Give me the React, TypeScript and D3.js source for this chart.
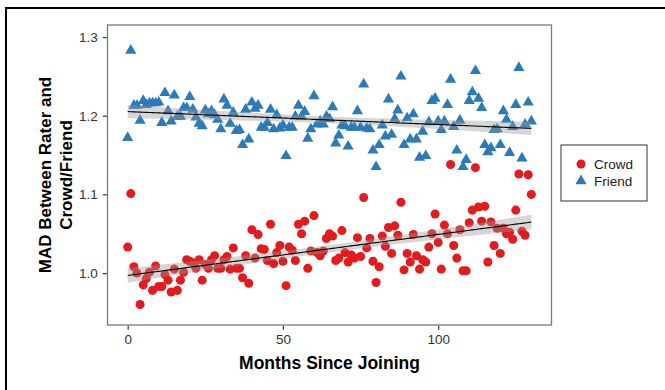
import { useEffect, useRef } from 'react';
import * as d3 from 'd3';

// one value per month since joining (month = index)
const crowd = [
    1.033, 1.101, 1.008, 1.000, 0.960, 0.985, 0.993, 1.001, 0.978, 1.009,
    0.983, 0.983, 0.998, 0.991, 0.976, 1.005, 0.978, 0.991, 1.001, 1.017,
    1.015, 1.013, 1.006, 1.017, 0.991, 1.011, 1.006, 1.017, 1.022, 1.006,
    1.006, 1.017, 1.021, 1.005, 1.032, 1.006, 1.006, 0.994, 1.022, 0.987,
    1.055, 1.019, 1.049, 1.031, 1.030, 1.016, 1.062, 1.012, 1.026, 1.035,
    1.015, 0.984, 1.033, 1.029, 1.016, 1.062, 1.050, 1.066, 1.006, 1.028,
    1.073, 1.026, 1.022, 1.028, 1.044, 1.050, 1.047, 1.016, 1.019, 1.054,
    1.026, 1.014, 1.023, 1.019, 1.045, 1.021, 1.096, 1.032, 1.044, 1.015,
    0.988, 1.008, 1.047, 1.034, 1.058, 1.025, 1.060, 1.048, 1.090, 1.004,
    1.025, 1.014, 1.049, 1.022, 1.005, 1.017, 1.014, 1.033, 1.050, 1.075,
    1.039, 1.005, 1.061, 1.050, 1.138, 1.035, 1.019, 1.055, 1.003, 1.003,
    1.064, 1.080, 1.134, 1.084, 1.066, 1.085, 1.014, 1.065, 1.035, 1.057,
    1.025, 1.057, 1.050, 1.052, 1.043, 1.080, 1.126, 1.053, 1.048, 1.125,
    1.100,
];

const friend = [
    1.172, 1.283, 1.213, 1.213, 1.194, 1.219, 1.214, 1.216, 1.216, 1.216,
    1.217, 1.191, 1.229, 1.206, 1.193, 1.226, 1.199, 1.199, 1.210, 1.210,
    1.224, 1.208, 1.198, 1.190, 1.187, 1.207, 1.202, 1.206, 1.201, 1.195,
    1.183, 1.221, 1.213, 1.190, 1.204, 1.181, 1.182, 1.163, 1.208, 1.170,
    1.217, 1.209, 1.213, 1.185, 1.185, 1.191, 1.208, 1.183, 1.201, 1.184,
    1.188, 1.149, 1.185, 1.185, 1.199, 1.213, 1.199, 1.205, 1.171, 1.183,
    1.225, 1.189, 1.193, 1.189, 1.199, 1.196, 1.211, 1.165, 1.175, 1.188,
    1.187, 1.161, 1.185, 1.185, 1.206, 1.185, 1.240, 1.184, 1.183, 1.156,
    1.135, 1.163, 1.188, 1.174, 1.221, 1.176, 1.196, 1.207, 1.250, 1.163,
    1.197, 1.170, 1.202, 1.170, 1.147, 1.180, 1.149, 1.192, 1.219, 1.222,
    1.193, 1.182, 1.193, 1.214, 1.246, 1.186, 1.156, 1.194, 1.135, 1.144,
    1.219, 1.230, 1.257, 1.222, 1.210, 1.163, 1.154, 1.159, 1.182, 1.183,
    1.163, 1.206, 1.195, 1.153, 1.186, 1.214, 1.261, 1.146, 1.189, 1.217,
    1.193,
];

const seriesNames = ['Crowd', 'Friend'];
const seriesColors = ['#e41a1c', '#2b7bba'];
const xTicks = [0, 50, 100];
const yTicks = [1.0, 1.1, 1.2, 1.3];

// ordinary least squares with a 95% confidence band, like geom_smooth(method = "lm")
function fitLine(ys: number[]) {
    const xs = ys.map((_, i) => i);
    const n = ys.length;
    const mx = d3.mean(xs)!;
    const my = d3.mean(ys)!;
    const sxx = d3.sum(xs, x => (x - mx) ** 2);
    const b = d3.sum(xs, (x, i) => (x - mx) * (ys[i] - my)) / sxx;
    const a = my - b * mx;
    const s = Math.sqrt(d3.sum(xs, (x, i) => (ys[i] - a - b * x) ** 2) / (n - 2));
    const t = 1.978;
    return xs.map(x => {
        const fit = a + b * x;
        const se = s * Math.sqrt(1 / n + (x - mx) ** 2 / sxx);
        return { x, fit, lo: fit - t * se, hi: fit + t * se };
    });
}

export default function App() {
    const ref = useRef<SVGSVGElement>(null);

    useEffect(() => {
        if (!ref.current) return;
        const svg = d3.select(ref.current);
        svg.selectAll('*').remove();

        const panel = { left: 107.5, right: 551.5, top: 25, bottom: 325 };
        const font = "'Liberation Sans', Arial, Helvetica, sans-serif";

        const xScale = d3.scaleLinear().domain([-6.5, 136.5]).range([panel.left, panel.right]);
        const yScale = d3.scaleLinear().domain([0.934, 1.3153]).range([panel.bottom, panel.top]);

        // outer frame (only the top and left edges show)
        svg.append('rect')
            .attr('x', 6).attr('y', 8)
            .attr('width', 800).attr('height', 600)
            .attr('fill', 'none').attr('stroke', '#000').attr('stroke-width', 2);

        const symbolFor = (k: number) => k === 0
            ? d3.symbol().type(d3.symbolCircle).size(64)
            : d3.symbol().type(d3.symbolTriangle).size(54);

        // points
        [crowd, friend].forEach((values, k) => {
            svg.append('g')
                .selectAll('path')
                .data(values)
                .join('path')
                .attr('transform', (d, i) => `translate(${xScale(i)},${yScale(d)})`)
                .attr('d', symbolFor(k)()!)
                .attr('fill', seriesColors[k]);
        });

        // regression bands and lines
        [crowd, friend].forEach(values => {
            const fit = fitLine(values);
            const area = d3.area<{ x: number; lo: number; hi: number }>()
                .x(d => xScale(d.x))
                .y0(d => yScale(d.lo))
                .y1(d => yScale(d.hi));
            svg.append('path')
                .datum(fit)
                .attr('d', area)
                .attr('fill', '#999999')
                .attr('fill-opacity', 0.4);
            const line = d3.line<{ x: number; fit: number }>()
                .x(d => xScale(d.x))
                .y(d => yScale(d.fit));
            svg.append('path')
                .datum(fit)
                .attr('d', line)
                .attr('fill', 'none')
                .attr('stroke', '#000')
                .attr('stroke-width', 1.1);
        });

        // panel border
        svg.append('rect')
            .attr('x', panel.left).attr('y', panel.top)
            .attr('width', panel.right - panel.left)
            .attr('height', panel.bottom - panel.top)
            .attr('fill', 'none').attr('stroke', '#7a7a7a').attr('stroke-width', 1.3);

        // axes
        const xAxis = svg.append('g')
            .attr('transform', `translate(0,${panel.bottom + 0.7})`)
            .call(d3.axisBottom(xScale).tickValues(xTicks).tickSize(4).tickPadding(5));
        const yAxis = svg.append('g')
            .attr('transform', `translate(${panel.left - 0.7},0)`)
            .call(d3.axisLeft(yScale).tickValues(yTicks).tickFormat(d3.format('.1f')).tickSize(4).tickPadding(5));
        [xAxis, yAxis].forEach(ax => {
            ax.select('.domain').remove();
            ax.selectAll('line').attr('stroke', '#333').attr('stroke-width', 1.2);
            ax.selectAll('text')
                .attr('fill', '#333')
                .style('font-family', font)
                .style('font-size', '13.5px');
        });

        // axis titles
        svg.append('text')
            .attr('x', xScale(65)).attr('y', 369)
            .attr('text-anchor', 'middle')
            .style('font-family', font).style('font-size', '17.5px').style('font-weight', 'bold')
            .text('Months Since Joining');

        const yMid = (panel.top + panel.bottom) / 2;
        ['MAD Between Rater and', 'Crowd/Friend'].forEach((s, i) => {
            svg.append('text')
                .attr('transform', `translate(${51 + i * 21},${yMid}) rotate(-90)`)
                .attr('text-anchor', 'middle')
                .style('font-family', font).style('font-size', '17px').style('font-weight', 'bold')
                .text(s);
        });

        // legend
        const lg = svg.append('g').attr('transform', 'translate(561,145)');
        lg.append('rect')
            .attr('width', 86).attr('height', 56)
            .attr('fill', '#fff').attr('stroke', '#333').attr('stroke-width', 1);
        seriesNames.forEach((name, k) => {
            const y = 19 + k * 17;
            lg.append('path')
                .attr('transform', `translate(20,${y})`)
                .attr('d', symbolFor(k)()!)
                .attr('fill', seriesColors[k]);
            lg.append('text')
                .attr('x', 33).attr('y', y + 5)
                .attr('fill', '#222')
                .style('font-family', font).style('font-size', '13.5px')
                .text(name);
        });
    }, []);

    return (
        <svg ref={ref} width={665} height={390} style={{ position: 'absolute', left: 0, top: 0 }} />
    );
}
